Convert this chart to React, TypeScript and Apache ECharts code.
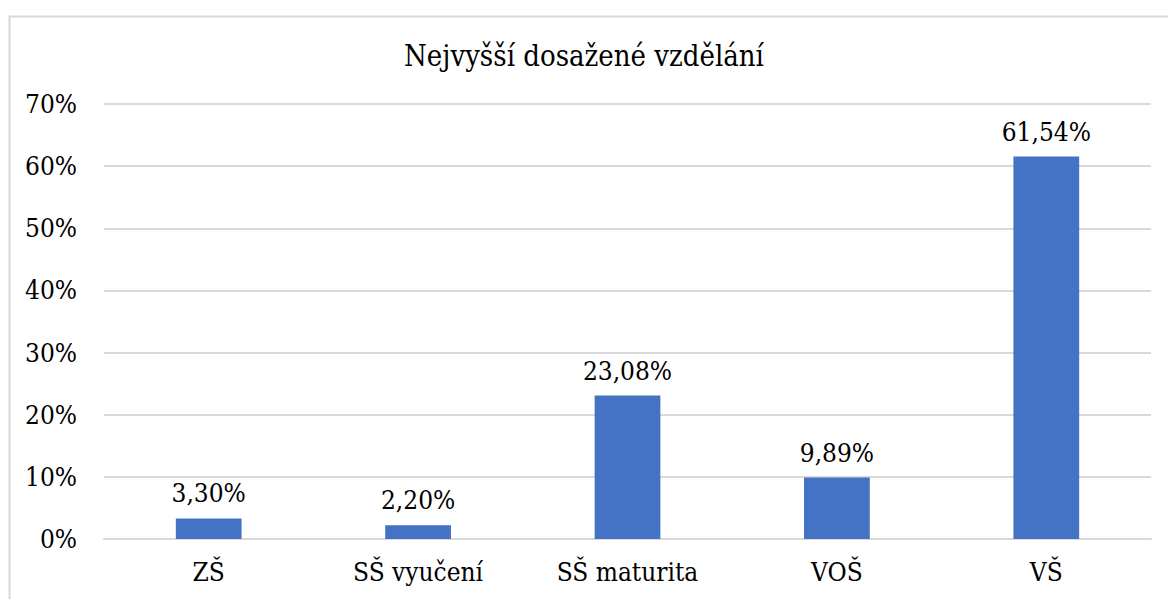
import React, { useEffect, useRef } from "react";
import * as echarts from "echarts";

const categories = ["ZŠ", "SŠ vyučení", "SŠ maturita", "VOŠ", "VŠ"];
const values = [3.3, 2.2, 23.08, 9.89, 61.54];
const titleText = "Nejvyšší dosažené vzdělání";
const yMax = 70;
const yStep = 10;

const FONT = "'DejaVu Serif Condensed', 'DejaVu Serif', serif";

export default function App() {
  const ref = useRef<HTMLDivElement>(null);
  useEffect(() => {
    if (!ref.current) return;
    const chart = echarts.init(ref.current, null, { renderer: "svg" });
    chart.setOption({
      animation: false,
      backgroundColor: "#ffffff",
      textStyle: { fontFamily: FONT },
      title: {
        text: titleText,
        left: "center",
        top: 36,
        textStyle: { fontFamily: FONT, fontSize: 29, fontWeight: "normal", color: "#000" },
      },
      graphic: [
        {
          type: "rect",
          left: 7,
          top: 14,
          shape: { width: 1300, height: 700 },
          style: { fill: "none", stroke: "#d9d9d9", lineWidth: 2 },
          silent: true,
          z: -1,
        },
      ],
      grid: { left: 104, right: 17, top: 104, bottom: 60, containLabel: false },
      xAxis: {
        type: "category",
        data: categories,
        axisLine: { show: true, lineStyle: { color: "#d9d9d9", width: 2 } },
        axisTick: { show: false },
        axisLabel: { fontFamily: FONT, fontSize: 26, color: "#000", margin: 20, interval: 0 },
      },
      yAxis: {
        type: "value",
        min: 0,
        max: yMax,
        interval: yStep,
        axisLine: { show: false },
        axisTick: { show: false },
        splitLine: { lineStyle: { color: "#d9d9d9", width: 2 } },
        axisLabel: {
          fontFamily: FONT,
          fontSize: 26,
          color: "#000",
          margin: 27,
          formatter: (v: number) => `${v}%`,
        },
      },
      series: [
        {
          type: "bar",
          data: values,
          barWidth: "31.4%",
          itemStyle: { color: "#4472C4" },
          label: {
            show: true,
            position: "top",
            distance: 12,
            fontFamily: FONT,
            fontSize: 26,
            color: "#000",
            formatter: (p: any) => p.value.toFixed(2).replace(".", ",") + "%",
          },
        },
      ],
    });
    return () => chart.dispose();
  }, []);
  return (
    <div
      ref={ref}
      style={{ position: "absolute", left: 0, top: 0, width: 1168, height: 599 }}
    />
  );
}
